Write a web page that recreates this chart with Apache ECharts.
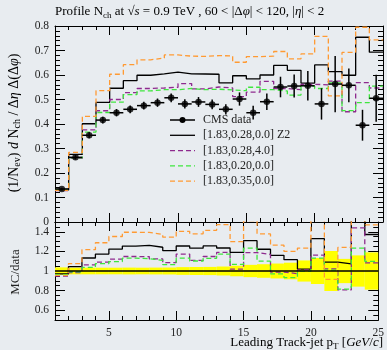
<!DOCTYPE html>
<html>
<head>
<meta charset="utf-8">
<script src="https://cdn.jsdelivr.net/npm/echarts@6/dist/echarts.min.js"></script>
<style>
  html, body { margin: 0; padding: 0; background: #e8ecf0; }
  #chart { width: 387px; height: 350px; }
</style>
</head>
<body>
<div id="chart"></div>
<script>
// Bin edges of the leading track-jet pT histogram (GeV/c)
const binEdges = [1,2,3,4,5,6,7,8,9,10,11,12,13,14,15,16,17,18,19,20,21,22,23,24,25];

// CMS measurement per bin and its uncertainty
const cmsData = [0.135,0.264,0.354,0.416,0.446,0.460,0.475,0.487,0.507,0.482,0.490,0.480,
                 0.460,0.502,0.446,0.491,0.551,0.555,0.556,0.482,0.563,0.558,0.395,0.505];
const cmsErr  = [0.005,0.009,0.012,0.014,0.015,0.016,0.016,0.017,0.018,0.019,0.020,0.020,
                 0.021,0.027,0.028,0.034,0.042,0.047,0.060,0.064,0.115,0.069,0.063,0.096];

// Monte Carlo predictions
const mcZ2    = [0.131,0.276,0.401,0.488,0.546,0.577,0.599,0.605,0.612,0.605,0.604,0.603,
                 0.568,0.597,0.584,0.600,0.639,0.619,0.567,0.641,0.614,0.599,0.754,0.693];
const mc28_40 = [0.128,0.260,0.376,0.454,0.500,0.528,0.545,0.547,0.550,0.565,0.543,0.551,
                 0.547,0.512,0.530,0.574,0.545,0.540,0.562,0.560,0.575,0.450,0.569,0.547];
const mc20_00 = [0.130,0.262,0.367,0.447,0.489,0.520,0.535,0.540,0.540,0.545,0.540,0.542,
                 0.539,0.536,0.550,0.540,0.535,0.518,0.555,0.545,0.568,0.455,0.487,0.555];
const mc35_00 = [0.129,0.284,0.431,0.536,0.603,0.642,0.662,0.669,0.682,0.677,0.676,0.679,
                 0.678,0.652,0.675,0.677,0.696,0.666,0.686,0.758,0.515,0.692,0.795,0.743];

// Tick labels
const xMajorTicks = [5,10,15,20,25];
const ratioMajorTicks = [0.6,0.8,1,1.2,1.4];

const C_PURPLE = '#8e2a8e', C_GREEN = '#3ee63e', C_ORANGE = '#ff9a33';
const SERIF = 'Liberation Serif';

function stepData(vals) {
  const out = vals.map((v, i) => [binEdges[i], v]);
  out.push([binEdges[vals.length], vals[vals.length - 1]]);
  return out;
}
function ratioOf(vals) { return vals.map((v, i) => v / cmsData[i]); }

const centers = cmsData.map((_, i) => (binEdges[i] + binEdges[i + 1]) / 2);
const widths = cmsData.map((_, i) => binEdges[i + 1] - binEdges[i]);

const chart = echarts.init(document.getElementById('chart'), null, { renderer: 'canvas' });

const axisTextStyle = { color: '#222', fontFamily: SERIF, fontSize: 11.5 };
const black = { color: '#000', width: 1 };

function xAx(grid, pos, major, labels) {
  const a = {
    type: 'value', gridIndex: grid, position: pos, min: 1, max: 25,
    axisLine: { show: !major, lineStyle: black },
    splitLine: { show: false },
    axisLabel: { show: false },
    axisTick: { show: true, inside: true, length: major ? 9 : 4, lineStyle: black }
  };
  if (major) {
    a.axisTick.customValues = xMajorTicks;
    if (labels) {
      a.axisLabel = { show: true, customValues: xMajorTicks, margin: 7, ...axisTextStyle };
    }
  } else {
    a.interval = 1;
  }
  return a;
}

function yMain(pos, labels) {
  return {
    type: 'value', gridIndex: 0, position: pos, min: 0, max: 0.8, interval: 0.1,
    axisLine: { show: true, lineStyle: black },
    splitLine: { show: false },
    axisTick: { show: true, inside: true, length: 10, lineStyle: black },
    minorTick: { show: true, splitNumber: 5, length: 5, lineStyle: black },
    minorSplitLine: { show: false },
    axisLabel: labels ? { show: true, margin: 6, ...axisTextStyle,
      formatter: v => (v === 0 ? '0' : v.toFixed(1)) } : { show: false }
  };
}

function yRatio(pos, major, labels) {
  const a = {
    type: 'value', gridIndex: 1, position: pos, min: 0.5, max: 1.5,
    axisLine: { show: !major, lineStyle: black },
    splitLine: { show: false },
    axisTick: { show: true, inside: true, length: major ? 10 : 5, lineStyle: black },
    axisLabel: { show: false }
  };
  if (major) {
    a.axisTick.customValues = ratioMajorTicks;
    if (labels) {
      a.axisLabel = { show: true, customValues: ratioMajorTicks, margin: 6, ...axisTextStyle,
        formatter: v => (Math.abs(v - 1) < 1e-9 ? '1' : String(+v.toFixed(1))) };
    }
  } else {
    a.interval = 0.05;
  }
  return a;
}

function histLine(name, vals, color, dashed, xi, yi, width) {
  return {
    name, type: 'line', xAxisIndex: xi, yAxisIndex: yi, step: 'end',
    data: stepData(vals), symbol: 'none', clip: true, silent: true,
    lineStyle: { color, width: width || 1.3, type: dashed ? [5, 3] : 'solid' }
  };
}

const errData = cmsData.map((v, i) => [centers[i], v, cmsErr[i], widths[i]]);
const bandData = cmsData.map((v, i) => [binEdges[i], binEdges[i + 1], 1 - cmsErr[i] / v, 1 + cmsErr[i] / v]);

const legendRows = [
  { text: 'CMS data', kind: 'data' },
  { text: '[1.83,0.28,0.0] Z2', color: '#000', dashed: false },
  { text: '[1.83,0.28,4.0]', color: C_PURPLE, dashed: true },
  { text: '[1.83,0.20,0.0]', color: C_GREEN, dashed: true },
  { text: '[1.83,0.35,0.0]', color: C_ORANGE, dashed: true }
];
const legendGraphics = [];
legendRows.forEach((r, k) => {
  const y = 120 + k * 15.3;
  legendGraphics.push({
    type: 'line', shape: { x1: 170, y1: y, x2: 195, y2: y },
    style: { stroke: r.color || '#000', lineWidth: r.kind === 'data' ? 1.5 : 1.3,
             lineDash: r.dashed ? [5, 3] : null }
  });
  if (r.kind === 'data') {
    legendGraphics.push({ type: 'circle', shape: { cx: 182.5, cy: y, r: 3 }, style: { fill: '#000' } });
  }
  legendGraphics.push({
    type: 'text', x: 203, y: y,
    style: { text: r.text, fill: '#222', font: '12px "' + SERIF + '"', verticalAlign: 'middle' }
  });
});

function richSet(size) {
  return {
    a: { fontFamily: SERIF, fontSize: size, color: '#222' },
    i: { fontFamily: SERIF, fontSize: size, color: '#222', fontStyle: 'italic' },
    s: { fontFamily: SERIF, fontSize: Math.round(size * 0.68), color: '#222', padding: [Math.round(size * 0.5), 0, 0, 0] }
  };
}

chart.setOption({
  backgroundColor: '#e8ecf0',
  animation: false,
  grid: [
    { left: 55, right: 4, top: 26, height: 196 },
    { left: 55, right: 4, top: 222, height: 98 }
  ],
  xAxis: [
    xAx(0, 'bottom', false), xAx(0, 'bottom', true),
    xAx(0, 'top', false), xAx(0, 'top', true),
    xAx(1, 'bottom', false), xAx(1, 'bottom', true, true),
    xAx(1, 'top', false), xAx(1, 'top', true)
  ],
  yAxis: [
    yMain('left', true), yMain('right', false),
    yRatio('left', true, true), yRatio('left', false),
    yRatio('right', true), yRatio('right', false)
  ],
  graphic: [
    {
      type: 'text', x: 55, y: 12,
      style: {
        text: '{a|Profile N}{s|ch}{a| at √}{i|s}{a| = 0.9 TeV , 60 < |Δ}{i|φ}{a|| < 120, |}{i|η}{a|| < 2}',
        rich: richSet(13), verticalAlign: 'middle'
      }
    },
    {
      type: 'text', x: 14, y: 123, rotation: Math.PI / 2,
      style: {
        text: '{a|(1/N}{s|ev}{a|) }{i|d}{a| N}{s|ch}{a| / Δ}{i|η}{a| Δ(Δ}{i|φ}{a|)}',
        rich: richSet(14), align: 'center', verticalAlign: 'middle'
      }
    },
    {
      type: 'text', x: 16, y: 272, rotation: Math.PI / 2,
      style: { text: 'MC/data', fill: '#222', font: '13px "' + SERIF + '"', align: 'center', verticalAlign: 'middle' }
    },
    {
      type: 'text', x: 383, y: 343,
      style: {
        text: '{a|Leading Track-jet p}{s|T}{a| [}{i|GeV}{a|/}{i|c}{a|]}',
        rich: richSet(13), align: 'right', verticalAlign: 'middle'
      }
    },
    ...legendGraphics
  ],
  series: [
    // ratio panel: data uncertainty band and unit line
    {
      type: 'custom', xAxisIndex: 4, yAxisIndex: 2, data: bandData, clip: true, silent: true,
      renderItem(params, api) {
        const p0 = api.coord([api.value(0), api.value(3)]);
        const p1 = api.coord([api.value(1), api.value(2)]);
        return { type: 'rect', shape: { x: p0[0], y: p0[1], width: p1[0] - p0[0], height: p1[1] - p0[1] },
                 style: { fill: '#ffff00' } };
      }
    },
    histLine('Z2 ratio', ratioOf(mcZ2), '#000', false, 4, 2),
    histLine('28_40 ratio', ratioOf(mc28_40), C_PURPLE, true, 4, 2),
    histLine('20_00 ratio', ratioOf(mc20_00), C_GREEN, true, 4, 2),
    histLine('35_00 ratio', ratioOf(mc35_00), C_ORANGE, true, 4, 2),
    histLine('data ratio', ratioOf(cmsData), '#000', false, 4, 2, 1.5),

    // main panel: MC histograms
    histLine('[1.83,0.28,0.0] Z2', mcZ2, '#000', false, 0, 0),
    histLine('[1.83,0.28,4.0]', mc28_40, C_PURPLE, true, 0, 0),
    histLine('[1.83,0.20,0.0]', mc20_00, C_GREEN, true, 0, 0),
    histLine('[1.83,0.35,0.0]', mc35_00, C_ORANGE, true, 0, 0),

    // CMS data with error bars
    {
      type: 'custom', xAxisIndex: 0, yAxisIndex: 0, data: errData, silent: true, z: 5,
      renderItem(params, api) {
        const x = api.value(0), y = api.value(1), e = api.value(2), w = api.value(3);
        const l = api.coord([x - w / 2, y]), r = api.coord([x + w / 2, y]);
        const t = api.coord([x, y + e]), b = api.coord([x, y - e]);
        const st = { stroke: '#000', lineWidth: 1.5 };
        return { type: 'group', children: [
          { type: 'line', shape: { x1: l[0], y1: l[1], x2: r[0], y2: r[1] }, style: st },
          { type: 'line', shape: { x1: t[0], y1: t[1], x2: b[0], y2: b[1] }, style: st }
        ] };
      }
    },
    {
      name: 'CMS data', type: 'scatter', xAxisIndex: 0, yAxisIndex: 0, z: 6, silent: true,
      data: cmsData.map((v, i) => [centers[i], v]),
      symbol: 'circle', symbolSize: 6.5, itemStyle: { color: '#000' }
    }
  ]
});
</script>
</body>
</html>
